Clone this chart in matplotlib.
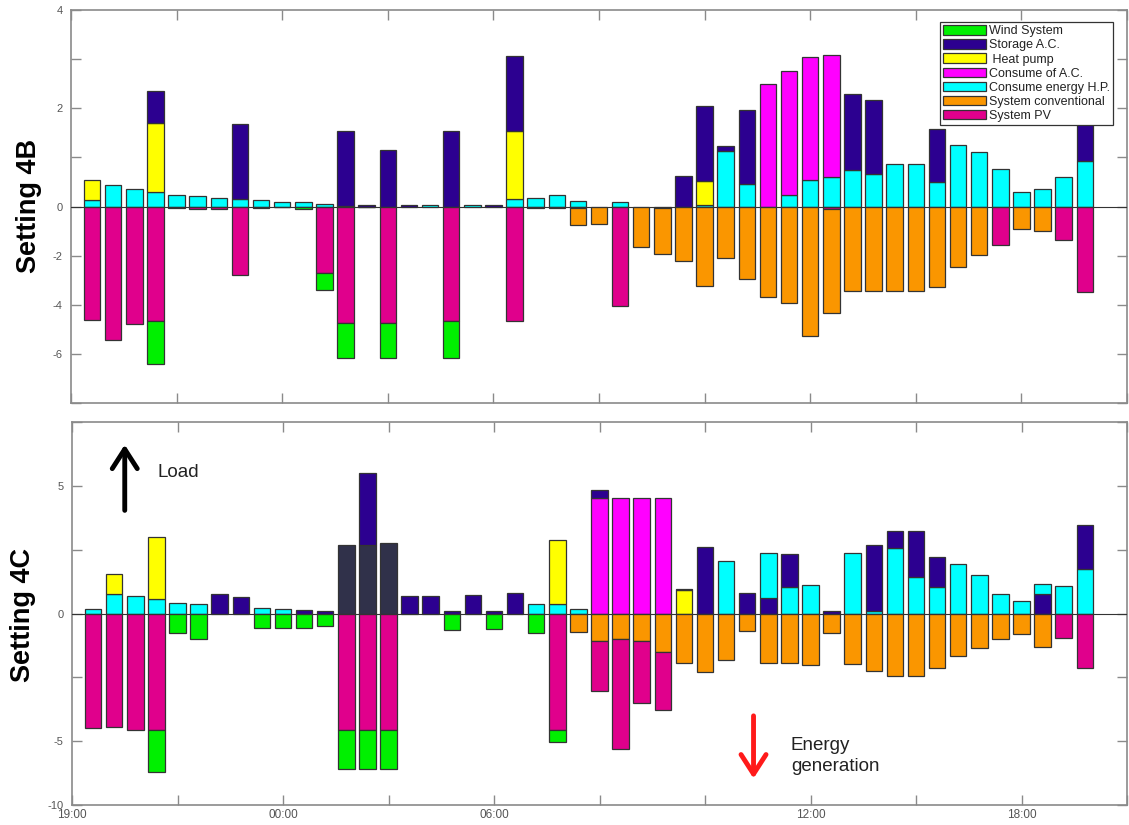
import numpy as np
import matplotlib
matplotlib.use("Agg")
import matplotlib.pyplot as plt
from matplotlib.patches import Patch
from matplotlib import font_manager

# ---------------------------------------------------------------- data
slots = np.arange(1, 49)                      # half-hour slots
tick_pos = np.arange(0, 51, 5)
tick_names = {0: "19:00", 10: "00:00", 20: "06:00", 35: "12:00", 45: "18:00"}

series_names = ["Wind System", "Storage A.C.", " Heat pump", "Consume of A.C.",
                "Consume energy H.P.", "System conventional", "System PV"]

# Setting 4B -------------------------------------------------------------
b_hp_cons = [0.13, 0.44, 0.36, 0.29, 0.24, 0.22, 0.18, 0.15, 0.14, 0.10, 0.10, 0.05,
             0.02, 0.00, 0.00, 0.00, 0.03, 0.00, 0.03, 0.00, 0.15, 0.18, 0.23, 0.12,
             0.00, 0.10, 0.00, 0.00, 0.00, 0.03, 1.13, 0.45, 0.00, 0.23, 0.53, 0.60,
             0.75, 0.67, 0.86, 0.86, 0.50, 1.26, 1.10, 0.77, 0.29, 0.36, 0.60, 0.92]
b_ac_cons = [0, 0, 0, 0, 0, 0, 0, 0, 0, 0, 0, 0,
             0, 0, 0, 0, 0, 0, 0, 0, 0, 0, 0, 0,
             0, 0, 0, 0, 0, 0, 0, 0, 2.50, 2.52, 2.51, 2.49,
             0, 0, 0, 0, 0, 0, 0, 0, 0, 0, 0, 0]
b_heat_pump = [0.41, 0, 0, 1.40, 0, 0, 0, 0, 0, 0, 0, 0,
               0, 0, 0, 0, 0, 0, 0, 0, 1.38, 0, 0, 0,
               0, 0, 0, 0, 0, 0.48, 0, 0, 0, 0, 0, 0,
               0, 0, 0, 0, 0, 0, 0, 0, 0, 0, 0, 0]
b_storage = [0, 0, 0, 0.66, 0, 0, 0, 1.53, 0, 0, 0, 0,
             1.52, 0.03, 1.16, 0.03, 0, 1.54, 0, 0.03, 1.53, 0, 0, 0,
             0, 0, 0, 0, 0.62, 1.54, 0.10, 1.52, 0, 0, 0, 0,
             1.53, 1.49, 0, 0, 1.08, 0, 0, 0, 0, 0, 0, 1.30]
b_pv = [-4.63, -5.45, -4.77, -4.68, -0.07, -0.10, -0.10, -2.77, -0.08, -0.03, 0, -2.71,
        -4.73, -0.03, -4.73, 0, 0, -4.66, 0, 0, -4.66, -0.07, -0.07, -0.07,
        0, -4.04, 0, -0.08, 0, 0, 0, 0, 0, 0, 0, -0.10,
        0, 0, 0, 0, 0, 0, 0, -1.58, 0, 0, -1.37, -3.47]
b_conv = [0, 0, 0, 0, 0, 0, 0, 0, 0, 0, 0, 0,
          0, 0, 0, 0, 0, 0, 0, 0, 0, 0, 0, -0.68,
          -0.71, 0, -1.64, -1.84, -2.22, -3.25, -2.10, -2.97, -3.70, -3.93, -5.27, -4.22,
          -3.42, -3.42, -3.42, -3.42, -3.26, -2.47, -1.99, 0, -0.93, -0.99, 0, 0]
b_wind = [0, 0, 0, -1.72, 0, 0, 0, 0, 0, 0, -0.11, -0.69,
          -1.43, 0, -1.43, 0, 0, -1.50, 0, 0, 0, 0, 0, 0,
          0, 0, 0, 0, 0, 0, 0, 0, 0, 0, 0, 0,
          0, 0, 0, 0, 0, 0, 0, 0, 0, 0, 0, 0]

# Setting 4C -------------------------------------------------------------
c_storage_dc = [0, 0, 0, 0, 0, 0, 0, 0, 0, 0, 0, 0,
                2.69, 2.69, 2.75, 0, 0, 0, 0, 0, 0, 0, 0, 0,
                0, 0, 0, 0, 0, 0, 0, 0, 0, 0, 0, 0,
                0, 0, 0, 0, 0, 0, 0, 0, 0, 0, 0, 0]
c_storage_low = [0, 0, 0, 0, 0, 0, 0, 0, 0, 0, 0, 0,
                 0, 0, 0, 0, 0, 0, 0, 0, 0, 0, 0, 0,
                 0, 0, 0, 0, 0, 0, 0, 0, 0.61, 0, 0, 0,
                 0, 0, 0, 0, 0, 0, 0, 0, 0, 0.78, 0, 0]
c_hp_cons = [0.17, 0.78, 0.69, 0.55, 0.43, 0.39, 0, 0, 0.22, 0.17, 0, 0,
             0, 0, 0, 0, 0, 0, 0, 0, 0, 0.36, 0.39, 0.16,
             0, 0, 0, 0, 0, 0, 2.04, 0, 1.75, 1.04, 1.13, 0,
             2.36, 0.09, 2.56, 1.43, 1.04, 1.95, 1.52, 0.78, 0.48, 0.36, 1.08, 1.74]
c_heat_pump = [0, 0.78, 0, 2.46, 0, 0, 0, 0, 0, 0, 0, 0,
               0, 0, 0, 0, 0, 0, 0, 0, 0, 0, 2.49, 0,
               0, 0, 0, 0, 0.91, 0, 0, 0, 0, 0, 0, 0,
               0, 0, 0, 0, 0, 0, 0, 0, 0, 0, 0, 0]
c_ac_cons = [0, 0, 0, 0, 0, 0, 0, 0, 0, 0, 0, 0,
             0, 0, 0, 0, 0, 0, 0, 0, 0, 0, 0, 0,
             4.51, 4.51, 4.51, 4.51, 0, 0, 0, 0, 0, 0, 0, 0,
             0, 0, 0, 0, 0, 0, 0, 0, 0, 0, 0, 0]
c_storage = [0, 0, 0, 0, 0, 0, 0.75, 0.65, 0, 0, 0.13, 0.09,
             0, 2.80, 0, 0.69, 0.69, 0.09, 0.71, 0.09, 0.81, 0, 0, 0,
             0.33, 0, 0, 0, 0.06, 2.62, 0, 0.81, 0, 1.30, 0, 0.09,
             0, 2.61, 0.66, 1.79, 1.17, 0, 0, 0, 0, 0, 0, 1.73]
c_conv = [0, 0, 0, 0, 0, 0, 0, 0, 0, 0, 0, 0,
          0, 0, 0, 0, 0, 0, 0, 0, 0, 0, 0, -0.71,
          -1.06, -1.01, -1.06, -1.49, -1.95, -2.31, -1.82, -0.69, -1.95, -1.95, -2.01, -0.78,
          -1.97, -2.27, -2.43, -2.43, -2.14, -1.66, -1.34, -1.01, -0.81, -1.30, 0, 0]
c_pv = [-4.48, -4.45, -4.55, -4.57, 0, 0, 0, 0, 0, 0, 0, 0,
        -4.57, -4.57, -4.57, 0, 0, 0, 0, 0, 0, 0, -4.55, 0,
        -1.97, -4.64, -2.45, -2.28, 0, 0, 0, 0, 0, 0, 0, 0,
        0, 0, 0, 0, 0, 0, 0, 0, 0, 0, -0.97, -2.12]
c_wind = [0, 0, 0, -2.85, -0.78, -1.01, 0, 0, -0.55, -0.55, -0.55, -0.48,
          -2.64, -2.64, -2.64, 0, 0, -0.65, 0, -0.62, 0, -0.78, -0.53, 0,
          0, 0, 0, 0, 0, 0, 0, 0, 0, 0, 0, 0,
          0, 0, 0, 0, 0, 0, 0, 0, 0, 0, 0, 0]

# ---------------------------------------------------------------- style
col = {
    "wind": "#00f000",
    "storage": "#2c0090",
    "heat": "#ffff00",
    "ac": "#ff00ff",
    "hp": "#00ffff",
    "conv": "#fa9600",
    "pv": "#e0008c",
    "dc": "#30314a",
}
edge = "#333333"
axis_grey = "#8a8a8a"
label_grey = "#555555"

installed = {f.name for f in font_manager.fontManager.ttflist}
base_font = "Liberation Sans" if "Liberation Sans" in installed else "DejaVu Sans"
title_font = "Liberation Sans Narrow" if "Liberation Sans Narrow" in installed else base_font
title_size = 22 if title_font.endswith("Narrow") else 19.5
plt.rcParams["font.family"] = [base_font, "DejaVu Sans"]


def draw_stack(ax, layers):
    """Stack the layers outward from zero, skipping empty segments."""
    base = np.zeros(len(slots))
    for vals, c in layers:
        v = np.asarray(vals, dtype=float)
        keep = v != 0
        ax.bar(slots[keep], v[keep], width=0.78, bottom=base[keep], color=c,
               edgecolor=edge, linewidth=0.9, zorder=3)
        base = base + v


def style_axes(ax, yticks, ylabels, ylim):
    ax.set_xlim(0, 50)
    ax.set_ylim(*ylim)
    ax.set_xticks(tick_pos)
    ax.set_yticks(yticks)
    ax.set_yticklabels(ylabels)
    ax.tick_params(direction="in", length=7, width=1, colors=axis_grey,
                   labelcolor=label_grey, labelsize=8,
                   top=True, right=True)
    ax.tick_params(axis="y", pad=6)
    for s in ax.spines.values():
        s.set_color(axis_grey)
        s.set_linewidth(1.2)
    ax.axhline(0, color="#333333", lw=0.8, zorder=4)


fig = plt.figure(figsize=(11.29, 8.25), dpi=100)
W, H = 1129, 825

# ---- Setting 4B (negative half drawn at half scale)
ax1 = fig.add_axes([71 / W, 1 - 403 / H, 1056 / W, 393 / H])
ax1.set_yscale("function",
               functions=(lambda y: np.where(y >= 0, y, y / 2.0),
                          lambda y: np.where(y >= 0, y, y * 2.0)))
draw_stack(ax1, [(b_hp_cons, col["hp"]), (b_ac_cons, col["ac"]),
                 (b_heat_pump, col["heat"]), (b_storage, col["storage"])])
draw_stack(ax1, [(b_pv, col["pv"]), (b_conv, col["conv"]), (b_wind, col["wind"])])
style_axes(ax1, [-8, -6, -4, -2, 0, 1, 2, 3, 4],
           ["", "-6", "-4", "-2", "0", "", "2", "", "4"], (-8, 4))
ax1.set_xticklabels([])

handles = [Patch(facecolor=col[k], edgecolor=edge, linewidth=0.9)
           for k in ["wind", "storage", "heat", "ac", "hp", "conv", "pv"]]
leg = ax1.legend(handles, series_names, loc="upper right",
                 bbox_to_anchor=((1113 - 71) / 1056, 1 - (22 - 10) / 393),
                 borderaxespad=0, fontsize=9, handlelength=3.4, handleheight=0.8,
                 handletextpad=0.25, labelspacing=0.16, borderpad=0.25,
                 fancybox=False, framealpha=1, edgecolor="#333333")
leg.get_frame().set_linewidth(0.9)
leg.set_zorder(10)
for t in leg.get_texts():
    t.set_color("#222222")

# ---- Setting 4C (below -5 drawn at half scale)
ax2 = fig.add_axes([72 / W, 1 - 805 / H, 1055 / W, 383 / H])
ax2.set_yscale("function",
               functions=(lambda y: np.where(y >= -5, y, -5 + (y + 5) / 2.0),
                          lambda y: np.where(y >= -5, y, -5 + (y + 5) * 2.0)))
draw_stack(ax2, [(c_storage_dc, col["dc"]), (c_storage_low, col["storage"]),
                 (c_hp_cons, col["hp"]), (c_heat_pump, col["heat"]),
                 (c_ac_cons, col["ac"]), (c_storage, col["storage"])])
draw_stack(ax2, [(c_conv, col["conv"]), (c_pv, col["pv"]), (c_wind, col["wind"])])
style_axes(ax2, [-10, -5, -2.5, 0, 2.5, 5, 7.5],
           ["-10", "-5", "", "0", "", "5", ""], (-10, 7.5))
ax2.set_xticklabels([tick_names.get(int(p), "") for p in tick_pos])
ax2.tick_params(axis="x", pad=3, labelsize=8.5)

# direction arrows
ax2.annotate("", xy=(0.050, 0.948), xytext=(0.050, 0.762), xycoords="axes fraction",
             arrowprops=dict(arrowstyle="->,head_length=0.7,head_width=0.45",
                             lw=3.5, color="black", mutation_scale=20))
ax2.text(0.0806, 0.867, "Load", transform=ax2.transAxes, fontsize=13.5,
         color="#222222", va="center", ha="left")
ax2.annotate("", xy=(0.646, 0.062), xytext=(0.646, 0.240), xycoords="axes fraction",
             arrowprops=dict(arrowstyle="->,head_length=0.7,head_width=0.45",
                             lw=3.5, color="#ff1a1a", mutation_scale=20))
ax2.text(0.6815, 0.128, "Energy\ngeneration", transform=ax2.transAxes, fontsize=13.5,
         color="#222222", va="center", ha="left", linespacing=1.35)

# panel titles on the left
fig.text(29 / W, 1 - 206 / H, "Setting 4B", rotation=90, ha="center", va="center",
         fontsize=title_size, fontweight="bold", family=[title_font, "DejaVu Sans"])
fig.text(23 / W, 1 - 615 / H, "Setting 4C", rotation=90, ha="center", va="center",
         fontsize=title_size, fontweight="bold", family=[title_font, "DejaVu Sans"])

fig.savefig("out.png", dpi=100)
